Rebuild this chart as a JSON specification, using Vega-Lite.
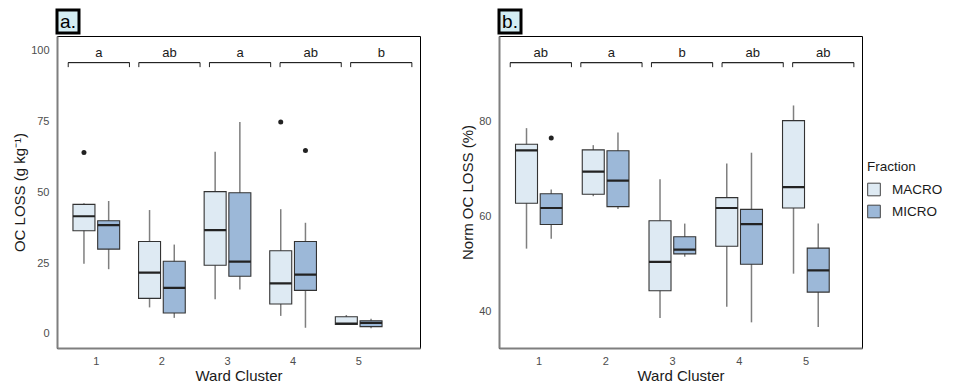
{
  "$schema": "https://vega.github.io/schema/vega-lite/v6.json",
  "padding": {"left": 12, "top": 8, "right": 0, "bottom": 0},
  "config": {
    "font": "Liberation Sans",
    "view": {"stroke": null},
    "axis": {"grid": false, "ticks": false, "tickSize": 0, "labelFontSize": 11, "labelColor": "#4d4d4d", "domainColor": "#7f7f7f", "domainWidth": 2, "titleFontSize": 15, "titleFontWeight": "normal", "titleColor": "#1a1a1a"}
  },
  "datasets": {
    "boxes": [
      {"panel": "a", "cluster": "1", "fraction": "MACRO", "lower": 24.8, "q1": 36.5, "median": 41.6, "q3": 45.8, "upper": 46.2},
      {"panel": "a", "cluster": "1", "fraction": "MICRO", "lower": 22.9, "q1": 30.0, "median": 38.5, "q3": 40.0, "upper": 47.0},
      {"panel": "a", "cluster": "2", "fraction": "MACRO", "lower": 9.4, "q1": 12.6, "median": 21.7, "q3": 32.7, "upper": 43.8},
      {"panel": "a", "cluster": "2", "fraction": "MICRO", "lower": 5.7, "q1": 7.4, "median": 16.3, "q3": 25.7, "upper": 31.6},
      {"panel": "a", "cluster": "3", "fraction": "MACRO", "lower": 12.3, "q1": 24.3, "median": 36.7, "q3": 50.3, "upper": 64.4},
      {"panel": "a", "cluster": "3", "fraction": "MICRO", "lower": 15.7, "q1": 20.4, "median": 25.6, "q3": 49.9, "upper": 74.9},
      {"panel": "a", "cluster": "4", "fraction": "MACRO", "lower": 6.4, "q1": 10.6, "median": 17.9, "q3": 29.4, "upper": 44.1},
      {"panel": "a", "cluster": "4", "fraction": "MICRO", "lower": 2.2, "q1": 15.4, "median": 21.0, "q3": 32.7, "upper": 39.3},
      {"panel": "a", "cluster": "5", "fraction": "MACRO", "lower": 3.4, "q1": 3.4, "median": 3.7, "q3": 6.1, "upper": 6.7},
      {"panel": "a", "cluster": "5", "fraction": "MICRO", "lower": 2.0, "q1": 2.6, "median": 3.9, "q3": 4.7, "upper": 5.4},
      {"panel": "b", "cluster": "1", "fraction": "MACRO", "lower": 53.2, "q1": 62.8, "median": 74.0, "q3": 75.3, "upper": 78.7},
      {"panel": "b", "cluster": "1", "fraction": "MICRO", "lower": 55.3, "q1": 58.3, "median": 61.8, "q3": 64.8, "upper": 65.7},
      {"panel": "b", "cluster": "2", "fraction": "MACRO", "lower": 64.3, "q1": 64.7, "median": 69.5, "q3": 74.1, "upper": 75.1},
      {"panel": "b", "cluster": "2", "fraction": "MICRO", "lower": 61.6, "q1": 62.1, "median": 67.6, "q3": 73.9, "upper": 77.8},
      {"panel": "b", "cluster": "3", "fraction": "MACRO", "lower": 38.5, "q1": 44.3, "median": 50.4, "q3": 59.1, "upper": 67.9},
      {"panel": "b", "cluster": "3", "fraction": "MICRO", "lower": 51.5, "q1": 52.1, "median": 53.0, "q3": 55.7, "upper": 58.5},
      {"panel": "b", "cluster": "4", "fraction": "MACRO", "lower": 40.9, "q1": 53.7, "median": 61.8, "q3": 64.0, "upper": 71.2},
      {"panel": "b", "cluster": "4", "fraction": "MICRO", "lower": 37.6, "q1": 49.9, "median": 58.4, "q3": 61.5, "upper": 73.5},
      {"panel": "b", "cluster": "5", "fraction": "MACRO", "lower": 47.9, "q1": 61.8, "median": 66.2, "q3": 80.3, "upper": 83.5},
      {"panel": "b", "cluster": "5", "fraction": "MICRO", "lower": 36.6, "q1": 44.0, "median": 48.6, "q3": 53.3, "upper": 58.5}
    ],
    "outliers": [
      {"panel": "a", "cluster": "1", "fraction": "MACRO", "value": 64.1},
      {"panel": "a", "cluster": "4", "fraction": "MACRO", "value": 74.9},
      {"panel": "a", "cluster": "4", "fraction": "MICRO", "value": 64.8},
      {"panel": "b", "cluster": "1", "fraction": "MICRO", "value": 76.6}
    ],
    "letters": [
      {"panel": "a", "cluster": "1", "letter": "a"},
      {"panel": "a", "cluster": "2", "letter": "ab"},
      {"panel": "a", "cluster": "3", "letter": "a"},
      {"panel": "a", "cluster": "4", "letter": "ab"},
      {"panel": "a", "cluster": "5", "letter": "b"},
      {"panel": "b", "cluster": "1", "letter": "ab"},
      {"panel": "b", "cluster": "2", "letter": "a"},
      {"panel": "b", "cluster": "3", "letter": "b"},
      {"panel": "b", "cluster": "4", "letter": "ab"},
      {"panel": "b", "cluster": "5", "letter": "ab"}
    ],
    "tags": [
      {"panel": "a", "tag": "a."},
      {"panel": "b", "tag": "b."}
    ]
  },
  "spacing": 39,
  "resolve": {"scale": {"color": "independent"}, "legend": {"color": "independent"}},
  "hconcat": [
    {
      "spacing": 0,
      "resolve": {"scale": {"color": "independent"}, "legend": {"color": "independent"}},
      "vconcat": [
        {
          "width": 22, "height": 23,
          "view": {"fill": "#d4edf3", "stroke": "#000000", "strokeWidth": 3},
          "data": {"name": "tags"},
          "transform": [{"filter": "datum.panel === 'a'"}],
          "mark": {"type": "text", "fontSize": 19, "baseline": "middle", "align": "center", "color": "#000000"},
          "encoding": {"text": {"field": "tag", "type": "nominal"}}
        },
        {
          "width": 363, "height": 312,
          "view": {"stroke": "#000000", "strokeWidth": 1},
          "resolve": {"scale": {"x": "independent"}},
          "layer": [
            {
              "layer": [
                {
                  "data": {"name": "boxes"},
                  "transform": [{"filter": "datum.panel === 'a'"}],
                  "mark": {"type": "rule", "color": "#7f7f7f", "strokeWidth": 1.5},
                  "encoding": {
                    "x": {"field": "cluster", "type": "nominal", "title": "Ward Cluster",
                      "scale": {"domain": ["1", "2", "3", "4", "5"], "paddingInner": 0.288, "paddingOuter": 0.411, "align": 0.296},
                      "axis": {"labelAngle": 0, "labelPadding": 7, "titlePadding": 2}},
                    "xOffset": {"field": "fraction", "type": "nominal", "scale": {"domain": ["MACRO", "MICRO"], "paddingInner": 0.11, "paddingOuter": 0}},
                    "y": {"field": "lower", "type": "quantitative", "title": "OC LOSS (g kg⁻¹)",
                      "scale": {"domain": [-4.95, 105.3], "nice": false, "zero": false},
                      "axis": {"values": [0, 25, 50, 75, 100], "labelPadding": 8, "titlePadding": 3}},
                    "y2": {"field": "upper"}
                  }
                },
                {
                  "data": {"name": "boxes"},
                  "transform": [{"filter": "datum.panel === 'a'"}],
                  "mark": {"type": "bar", "stroke": "#333333", "strokeWidth": 1.1},
                  "encoding": {
                    "x": {"field": "cluster", "type": "nominal"},
                    "xOffset": {"field": "fraction", "type": "nominal"},
                    "y": {"field": "q1", "type": "quantitative"},
                    "y2": {"field": "q3"},
                    "color": {"field": "fraction", "type": "nominal", "legend": null,
                      "scale": {"domain": ["MACRO", "MICRO"], "range": ["#deeaf3", "#9cb8d8"]}}
                  }
                },
                {
                  "data": {"name": "boxes"},
                  "transform": [{"filter": "datum.panel === 'a'"}],
                  "mark": {"type": "bar", "stroke": "#222222", "strokeWidth": 2.2, "fillOpacity": 0},
                  "encoding": {
                    "x": {"field": "cluster", "type": "nominal"},
                    "xOffset": {"field": "fraction", "type": "nominal"},
                    "y": {"field": "median", "type": "quantitative"},
                    "y2": {"field": "median"}
                  }
                },
                {
                  "data": {"name": "outliers"},
                  "transform": [{"filter": "datum.panel === 'a'"}],
                  "mark": {"type": "point", "filled": true, "size": 25, "color": "#222222", "opacity": 1},
                  "encoding": {
                    "x": {"field": "cluster", "type": "nominal"},
                    "xOffset": {"field": "fraction", "type": "nominal"},
                    "y": {"field": "value", "type": "quantitative"}
                  }
                }
              ]
            },
            {
              "data": {"name": "letters"},
              "transform": [{"filter": "datum.panel === 'a'"}],
              "encoding": {
                "x": {"field": "cluster", "type": "nominal", "axis": null,
                  "scale": {"domain": ["1", "2", "3", "4", "5"], "paddingInner": 0.133, "paddingOuter": 0.137, "align": 0.58}}
              },
              "layer": [
                {
                  "mark": {"type": "bar", "stroke": "#222222", "strokeWidth": 1, "fillOpacity": 0},
                  "encoding": {"y": {"datum": 95.9, "type": "quantitative"}, "y2": {"datum": 95.9}}
                },
                {
                  "mark": {"type": "rule", "color": "#222222", "strokeWidth": 1},
                  "encoding": {"x": {"field": "cluster", "type": "nominal", "bandPosition": 0, "axis": null}, "y": {"datum": 94.3, "type": "quantitative"}, "y2": {"datum": 95.9}}
                },
                {
                  "mark": {"type": "rule", "color": "#222222", "strokeWidth": 1},
                  "encoding": {"x": {"field": "cluster", "type": "nominal", "bandPosition": 1, "axis": null}, "y": {"datum": 94.3, "type": "quantitative"}, "y2": {"datum": 95.9}}
                },
                {
                  "mark": {"type": "text", "fontSize": 13, "baseline": "middle", "color": "#1a1a1a"},
                  "encoding": {"text": {"field": "letter", "type": "nominal"}, "y": {"datum": 99.2, "type": "quantitative"}}
                }
              ]
            }
          ]
        }
      ]
    },
    {
      "spacing": 0,
      "resolve": {"scale": {"color": "independent"}, "legend": {"color": "independent"}},
      "vconcat": [
        {
          "width": 22, "height": 23,
          "view": {"fill": "#d4edf3", "stroke": "#000000", "strokeWidth": 3},
          "data": {"name": "tags"},
          "transform": [{"filter": "datum.panel === 'b'"}],
          "mark": {"type": "text", "fontSize": 19, "baseline": "middle", "align": "center", "color": "#000000"},
          "encoding": {"text": {"field": "tag", "type": "nominal"}}
        },
        {
          "width": 363, "height": 312,
          "view": {"stroke": "#000000", "strokeWidth": 1},
          "resolve": {"scale": {"x": "independent"}},
          "layer": [
            {
              "layer": [
                {
                  "data": {"name": "boxes"},
                  "transform": [{"filter": "datum.panel === 'b'"}],
                  "mark": {"type": "rule", "color": "#7f7f7f", "strokeWidth": 1.5},
                  "encoding": {
                    "x": {"field": "cluster", "type": "nominal", "title": "Ward Cluster",
                      "scale": {"domain": ["1", "2", "3", "4", "5"], "paddingInner": 0.296, "paddingOuter": 0.367, "align": 0.337},
                      "axis": {"labelAngle": 0, "labelPadding": 7, "titlePadding": 2}},
                    "xOffset": {"field": "fraction", "type": "nominal", "scale": {"domain": ["MACRO", "MICRO"], "paddingInner": 0.11, "paddingOuter": 0}},
                    "y": {"field": "lower", "type": "quantitative", "title": "Norm OC LOSS (%)",
                      "scale": {"domain": [32.17, 98.2], "nice": false, "zero": false},
                      "axis": {"values": [40, 60, 80], "labelPadding": 8, "titlePadding": 3}},
                    "y2": {"field": "upper"}
                  }
                },
                {
                  "data": {"name": "boxes"},
                  "transform": [{"filter": "datum.panel === 'b'"}],
                  "mark": {"type": "bar", "stroke": "#333333", "strokeWidth": 1.1},
                  "encoding": {
                    "x": {"field": "cluster", "type": "nominal"},
                    "xOffset": {"field": "fraction", "type": "nominal"},
                    "y": {"field": "q1", "type": "quantitative"},
                    "y2": {"field": "q3"},
                    "color": {"field": "fraction", "type": "nominal",
                      "scale": {"domain": ["MACRO", "MICRO"], "range": ["#deeaf3", "#9cb8d8"]},
                      "legend": {"title": "Fraction", "orient": "none", "legendX": 368, "legendY": 124,
                        "symbolType": "square", "symbolSize": 160, "symbolStrokeColor": "#444444", "symbolStrokeWidth": 1,
                        "labelFontSize": 13.5, "labelColor": "#1a1a1a", "titleFontSize": 13.5, "titleFontWeight": "normal", "titleColor": "#1a1a1a",
                        "labelOffset": 11, "rowPadding": 4, "titlePadding": 9, "padding": 0}}
                  }
                },
                {
                  "data": {"name": "boxes"},
                  "transform": [{"filter": "datum.panel === 'b'"}],
                  "mark": {"type": "bar", "stroke": "#222222", "strokeWidth": 2.2, "fillOpacity": 0},
                  "encoding": {
                    "x": {"field": "cluster", "type": "nominal"},
                    "xOffset": {"field": "fraction", "type": "nominal"},
                    "y": {"field": "median", "type": "quantitative"},
                    "y2": {"field": "median"}
                  }
                },
                {
                  "data": {"name": "outliers"},
                  "transform": [{"filter": "datum.panel === 'b'"}],
                  "mark": {"type": "point", "filled": true, "size": 25, "color": "#222222", "opacity": 1},
                  "encoding": {
                    "x": {"field": "cluster", "type": "nominal"},
                    "xOffset": {"field": "fraction", "type": "nominal"},
                    "y": {"field": "value", "type": "quantitative"}
                  }
                }
              ]
            },
            {
              "data": {"name": "letters"},
              "transform": [{"filter": "datum.panel === 'b'"}],
              "encoding": {
                "x": {"field": "cluster", "type": "nominal", "axis": null,
                  "scale": {"domain": ["1", "2", "3", "4", "5"], "paddingInner": 0.133, "paddingOuter": 0.137, "align": 0.58}}
              },
              "layer": [
                {
                  "mark": {"type": "bar", "stroke": "#222222", "strokeWidth": 1, "fillOpacity": 0},
                  "encoding": {"y": {"datum": 92.56, "type": "quantitative"}, "y2": {"datum": 92.56}}
                },
                {
                  "mark": {"type": "rule", "color": "#222222", "strokeWidth": 1},
                  "encoding": {"x": {"field": "cluster", "type": "nominal", "bandPosition": 0, "axis": null}, "y": {"datum": 91.6, "type": "quantitative"}, "y2": {"datum": 92.56}}
                },
                {
                  "mark": {"type": "rule", "color": "#222222", "strokeWidth": 1},
                  "encoding": {"x": {"field": "cluster", "type": "nominal", "bandPosition": 1, "axis": null}, "y": {"datum": 91.6, "type": "quantitative"}, "y2": {"datum": 92.56}}
                },
                {
                  "mark": {"type": "text", "fontSize": 13, "baseline": "middle", "color": "#1a1a1a"},
                  "encoding": {"text": {"field": "letter", "type": "nominal"}, "y": {"datum": 94.55, "type": "quantitative"}}
                }
              ]
            }
          ]
        }
      ]
    }
  ]
}
